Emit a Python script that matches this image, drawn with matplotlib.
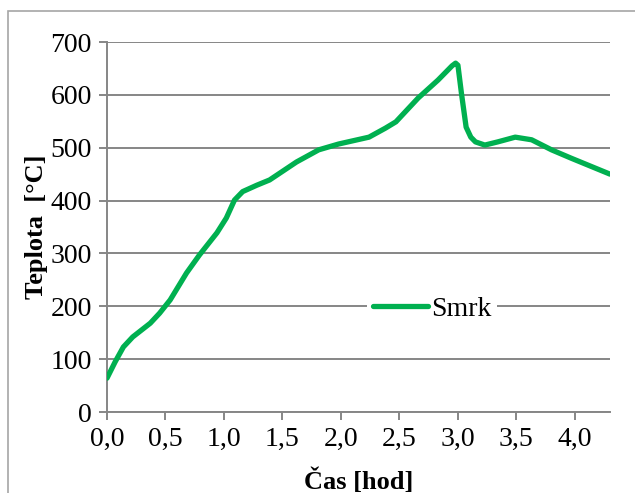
import matplotlib
matplotlib.use("Agg")
import matplotlib.pyplot as plt
from matplotlib.patches import Rectangle
from matplotlib.ticker import FuncFormatter

# Temperature course of spruce (Smrk) burning
time_h = [0.00, 0.07, 0.14, 0.22, 0.37, 0.45, 0.54, 0.68, 0.79, 0.94, 1.02, 1.09,
          1.16, 1.28, 1.39, 1.62, 1.81, 1.98, 2.24, 2.38, 2.47, 2.66, 2.83, 2.95,
          2.98, 3.00, 3.03, 3.07, 3.11, 3.15, 3.23, 3.34, 3.49, 3.63, 3.80, 3.97, 4.30]
temp_c = [64, 95, 123, 142, 168, 187, 212, 263, 297, 339, 367, 401,
          417, 429, 439, 473, 496, 507, 520, 537, 549, 594, 628, 655,
          660, 656, 603, 539, 520, 511, 505, 511, 520, 515, 496, 480, 450]

series_name = "Smrk"
x_ticks = [0.0, 0.5, 1.0, 1.5, 2.0, 2.5, 3.0, 3.5, 4.0]
y_ticks = [0, 100, 200, 300, 400, 500, 600, 700]
x_label = "Čas [hod]"
y_label = "Teplota  [°C]"

plt.rcParams["font.family"] = ["Liberation Serif", "DejaVu Serif"]

fig = plt.figure(figsize=(6.35, 4.93), dpi=100)
fig.patch.set_facecolor("white")

# outer chart frame
fig.patches.append(Rectangle((8 / 635, -0.1), 1.2, 1 - 11 / 493 + 0.1,
                             transform=fig.transFigure, fill=False,
                             edgecolor="#a6a6a6", linewidth=1.2))

ax = fig.add_axes([107 / 635, 1 - 412 / 493, (610 - 107) / 635, (412 - 42) / 493])
grid_c = "#868686"

ax.plot(time_h, temp_c, color="#00B050", linewidth=3.8, solid_joinstyle="round",
        solid_capstyle="round", label=series_name, zorder=3)

ax.set_xlim(0, 4.3)
ax.set_ylim(0, 700)
ax.set_xticks(x_ticks)
ax.set_yticks(y_ticks)
ax.xaxis.set_major_formatter(FuncFormatter(lambda v, p: f"{v:.1f}".replace(".", ",")))
ax.yaxis.set_major_formatter(FuncFormatter(lambda v, p: f"{int(v)}"))

ax.grid(axis="y", color=grid_c, linewidth=1.4)
ax.set_axisbelow(True)
for s in ("top", "right"):
    ax.spines[s].set_visible(False)
for s in ("left", "bottom"):
    ax.spines[s].set_color(grid_c)
    ax.spines[s].set_linewidth(1.4)
ax.tick_params(axis="both", direction="out", length=6, width=1.4, color=grid_c,
               labelsize=20, pad=5, labelcolor="black")

ax.set_xlabel(x_label, fontsize=19, fontweight="bold", labelpad=12)
ax.set_ylabel(y_label, fontsize=19, fontweight="bold", labelpad=2)

leg = ax.legend(loc="center", bbox_to_anchor=((432 - 107) / 503, (412 - 309) / 370),
                frameon=True, fontsize=20, handlelength=2.0, handletextpad=0.1,
                borderpad=0.2, borderaxespad=0)
leg.get_frame().set_facecolor("white")
leg.get_frame().set_edgecolor("none")
leg.get_frame().set_alpha(1)

fig.savefig("out.png", dpi=100, facecolor="white")
